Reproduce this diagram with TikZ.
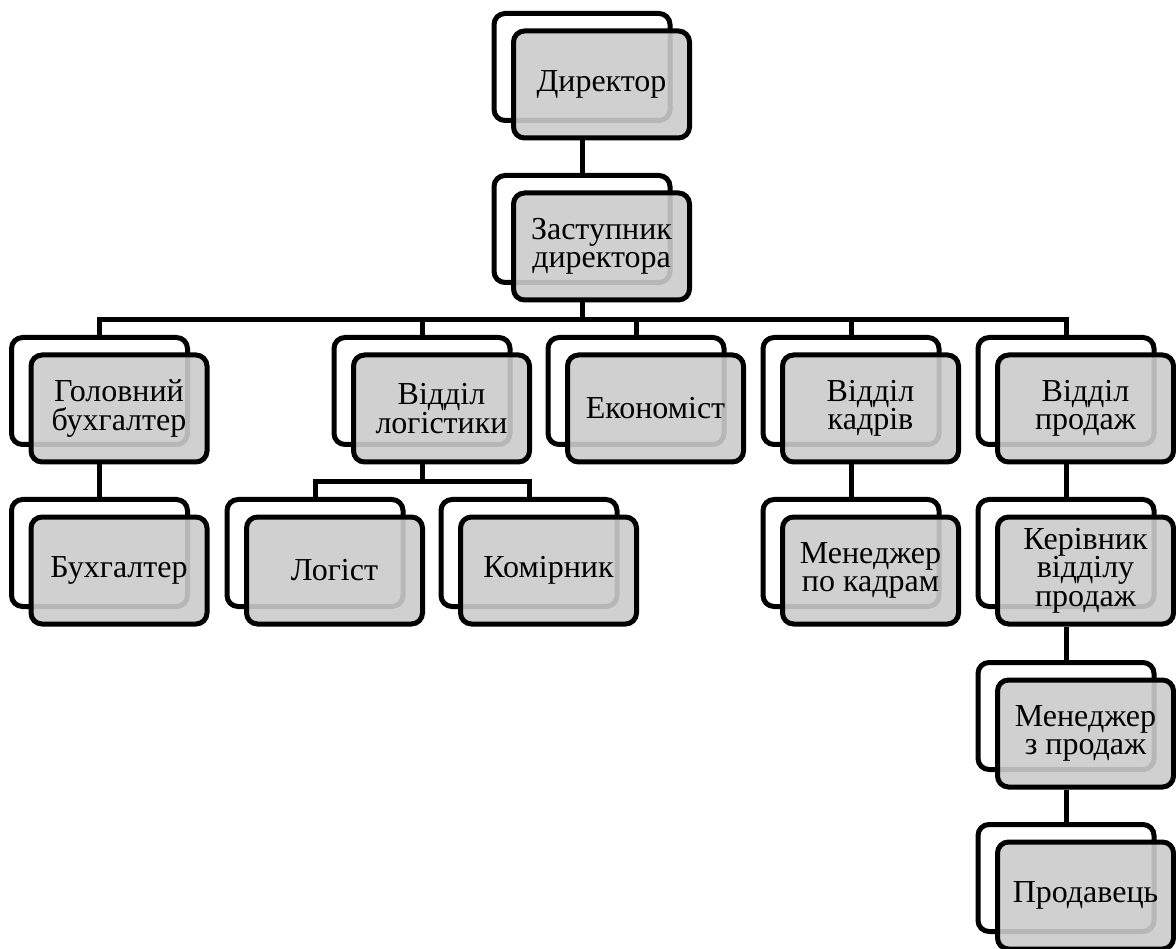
\documentclass[tikz,border=0pt]{standalone}
\usepackage{fontspec}
\setmainfont{Liberation Serif}
\usepackage{tikz}
\definecolor{boxgray}{RGB}{203,203,203}
\tikzset{
  backbox/.style={rectangle, draw=black, fill=white, line width=5pt,
    rounded corners=11pt, minimum width=176pt, minimum height=107pt,
    inner sep=0pt},
  frontbox/.style={backbox, fill=boxgray, fill opacity=0.9,
    text opacity=1, align=center, font=\fontsize{32}{28.5}\selectfont},
  line/.style={line width=5pt, color=black}
}
% back card + front card
\newcommand{\orgbox}[4]{%
  \node[backbox] (#1b) at (#2,#3) {};
  \node[frontbox, xshift=19.5pt, yshift=-17.5pt] (#1) at (#2,#3) {#4};
}

\begin{document}
\begin{tikzpicture}[x=1pt, y=-1pt]
  \useasboundingbox (0,0) rectangle (1176,949);

  \orgbox{dir}{582}{67}{Директор}
  \orgbox{zast}{582}{229}{Заступник\\директора}

  \orgbox{gol}{99.5}{391}{Головний\\бухгалтер}
  \orgbox{log}{422}{391}{Відділ\\логістики}
  \orgbox{ek}{636}{391}{Економіст}
  \orgbox{kad}{851}{391}{Відділ\\кадрів}
  \orgbox{vpr}{1066}{391}{Відділ\\продаж}

  \orgbox{buh}{99.5}{553}{Бухгалтер}
  \orgbox{logist}{315}{553}{Логіст}
  \orgbox{kom}{529}{553}{Комірник}
  \orgbox{menk}{851}{553}{Менеджер\\по кадрам}
  \orgbox{ker}{1066}{553}{Керівник\\відділу\\продаж}

  \orgbox{menp}{1066}{716}{Менеджер\\з продаж}
  \orgbox{prod}{1066}{878}{Продавець}

  \coordinate (bus) at (582,320);
  \coordinate (lbus) at (422,482);

  \draw[line] (dirb |- dir.south) -- (zastb.north);
  \draw[line] (zastb |- zast.south) -- (bus);
  \draw[line] (golb.north) |- (bus) -| (vprb.north);
  \draw[line] (logb.north) -- (logb.north |- bus);
  \draw[line] (ekb.north) -- (ekb.north |- bus);
  \draw[line] (kadb.north) -- (kadb.north |- bus);

  \draw[line] (logb |- log.south) -- (lbus);
  \draw[line] (logistb.north) |- (lbus) -| (komb.north);

  \draw[line] (golb |- gol.south) -- (buhb.north);
  \draw[line] (kadb |- kad.south) -- (menkb.north);
  \draw[line] (vprb |- vpr.south) -- (kerb.north);
  \draw[line] (kerb |- ker.south) -- (menpb.north);
  \draw[line] (menpb |- menp.south) -- (prodb.north);
\end{tikzpicture}
\end{document}
